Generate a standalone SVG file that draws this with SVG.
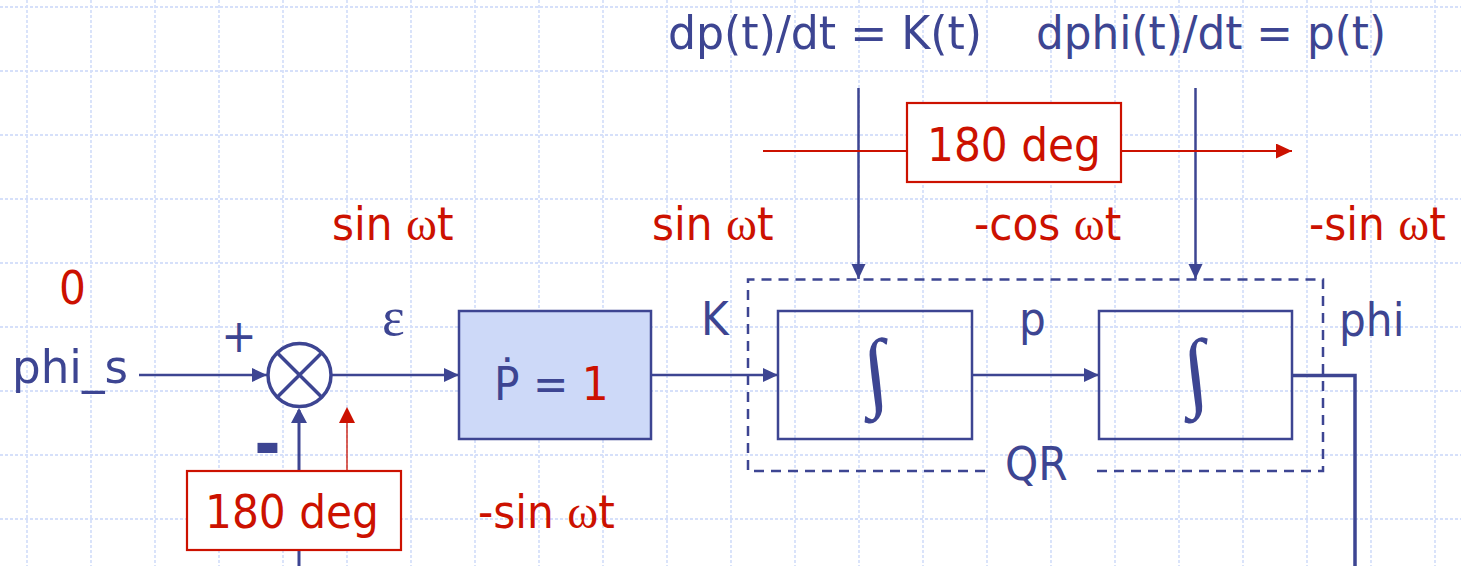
<svg xmlns="http://www.w3.org/2000/svg" width="1461" height="566" viewBox="0 0 1461 566">
<style>
.grid{fill:none;stroke:#d6e0fa;stroke-width:1.8;stroke-dasharray:3 2}
.b{fill:#3d4592;font-family:"DejaVu Sans Condensed","DejaVu Sans",sans-serif;font-size:47px}
.r{fill:#cc1100;font-family:"DejaVu Sans Condensed","DejaVu Sans",sans-serif;font-size:47px}
.w{font-family:"Liberation Serif","DejaVu Serif",serif;font-size:47px}
.ln{fill:none;stroke:#3d4592;stroke-width:2.5}
.rl{fill:none;stroke:#cc1100;stroke-width:2}
.box{fill:none;stroke:#3d4592;stroke-width:2.5}
.rbox{fill:#ffffff;stroke:#cc1100;stroke-width:2.2}
.int{fill:#3d4592;font-family:"Liberation Serif",serif;font-size:88px}
</style>
<defs>
<marker id="ab" markerUnits="userSpaceOnUse" markerWidth="16" markerHeight="16" refX="15" refY="7" orient="auto"><path d="M0,0 L15,7 L0,14 Z" fill="#3d4592"/></marker>
<marker id="ar" markerUnits="userSpaceOnUse" markerWidth="17" markerHeight="16" refX="16" refY="7.5" orient="auto"><path d="M0,0 L16,7.5 L0,15 Z" fill="#cc1100"/></marker>
</defs>
<rect width="1461" height="566" fill="#ffffff"/>
<path class="grid" d="M27,0V566M91,0V566M155,0V566M219,0V566M283,0V566M347,0V566M411,0V566M475,0V566M539,0V566M603,0V566M667,0V566M731,0V566M795,0V566M859,0V566M923,0V566M987,0V566M1051,0V566M1115,0V566M1179,0V566M1243,0V566M1307,0V566M1371,0V566M1435,0V566M0,7H1461M0,71H1461M0,135H1461M0,199H1461M0,263H1461M0,327H1461M0,391H1461M0,455H1461M0,519H1461"/>

<g id="connectors">
<line class="ln" x1="139" y1="375" x2="267" y2="375" marker-end="url(#ab)"/>
<line class="ln" x1="331" y1="375" x2="459" y2="375" marker-end="url(#ab)"/>
<line class="ln" x1="651" y1="375" x2="778" y2="375" marker-end="url(#ab)"/>
<line class="ln" x1="972" y1="375" x2="1099" y2="375" marker-end="url(#ab)"/>
<polyline class="ln" style="stroke-width:3.5" points="1292,375.5 1355,375.5 1355,566"/>
<line class="ln" x1="299" y1="566" x2="299" y2="410" style="stroke-width:3"/>
<path d="M291,423 L299,408 L307,423 Z" fill="#3d4592"/>
<line class="rl" x1="347" y1="470" x2="347" y2="410" style="stroke-width:1.3"/>
<path d="M339,423 L347,407 L355,423 Z" fill="#cc1100"/>
<line class="ln" x1="858.5" y1="88" x2="858.5" y2="279" marker-end="url(#ab)"/>
<line class="ln" x1="1195.5" y1="88" x2="1195.5" y2="279" marker-end="url(#ab)"/>
<line class="rl" x1="763" y1="151" x2="907" y2="151"/>
<line class="rl" x1="1121" y1="151" x2="1292" y2="151" marker-end="url(#ar)"/>
</g>

<g id="qr">
<path d="M985,471H748V279.5H1323V471H1092" fill="none" stroke="#3d4592" stroke-width="2.5" stroke-dasharray="10 7"/>
<text class="b" x="1005" y="480">QR</text>
</g>

<g id="sum">
<circle cx="299.5" cy="375" r="31.5" fill="#ffffff" stroke="#3d4592" stroke-width="3.5"/>
<path d="M277.2,352.7L321.8,397.3M321.8,352.7L277.2,397.3" stroke="#3d4592" stroke-width="3.5"/>
</g>

<g id="pbox">
<rect x="459" y="311" width="192" height="128" fill="#cdd9f8" stroke="#3d4592" stroke-width="2.5"/>
<text class="b" x="494" y="400">Ṗ = <tspan fill="#cc1100">1</tspan></text>
</g>

<g id="int1">
<rect class="box" x="778" y="311" width="194" height="128"/>
<text class="int" transform="translate(876,380) skewX(7)" x="0" y="20" text-anchor="middle">∫</text>
</g>

<g id="int2">
<rect class="box" x="1099" y="311" width="193" height="128"/>
<text class="int" transform="translate(1196,380) skewX(7)" x="0" y="20" text-anchor="middle">∫</text>
</g>

<g id="deg-top">
<rect class="rbox" x="907" y="103" width="214" height="79"/>
<text class="r" x="1014" y="161" text-anchor="middle">180 deg</text>
</g>

<g id="deg-bottom">
<rect class="rbox" x="187" y="471" width="214" height="79"/>
<text class="r" x="292" y="528" text-anchor="middle">180 deg</text>
</g>

<g id="labels">
<text class="b" x="668" y="49" textLength="314" lengthAdjust="spacingAndGlyphs">dp(t)/dt = K(t)</text>
<text class="b" x="1036" y="49" textLength="350" lengthAdjust="spacingAndGlyphs">dphi(t)/dt = p(t)</text>
<text class="r" x="332" y="240">sin <tspan class="w">ω</tspan>t</text>
<text class="r" x="652" y="240">sin <tspan class="w">ω</tspan>t</text>
<text class="r" x="974" y="240">-cos <tspan class="w">ω</tspan>t</text>
<text class="r" x="1309" y="240">-sin <tspan class="w">ω</tspan>t</text>
<text class="r" x="478" y="528">-sin <tspan class="w">ω</tspan>t</text>
<text class="r" x="59" y="304">0</text>
<text class="b" x="12" y="383" textLength="116" lengthAdjust="spacingAndGlyphs">phi_s</text>
<text class="b" x="239" y="352" text-anchor="middle">+</text>
<text class="b" x="267.5" y="468" text-anchor="middle" style="font-weight:bold;font-size:72px">-</text>
<text x="382" y="335" style="fill:#3d4592;font-family:'Liberation Serif',serif;font-size:54px">ε</text>
<text class="b" x="701" y="335">K</text>
<text class="b" x="1019" y="335">p</text>
<text class="b" x="1339" y="336">phi</text>
</g>
</svg>
